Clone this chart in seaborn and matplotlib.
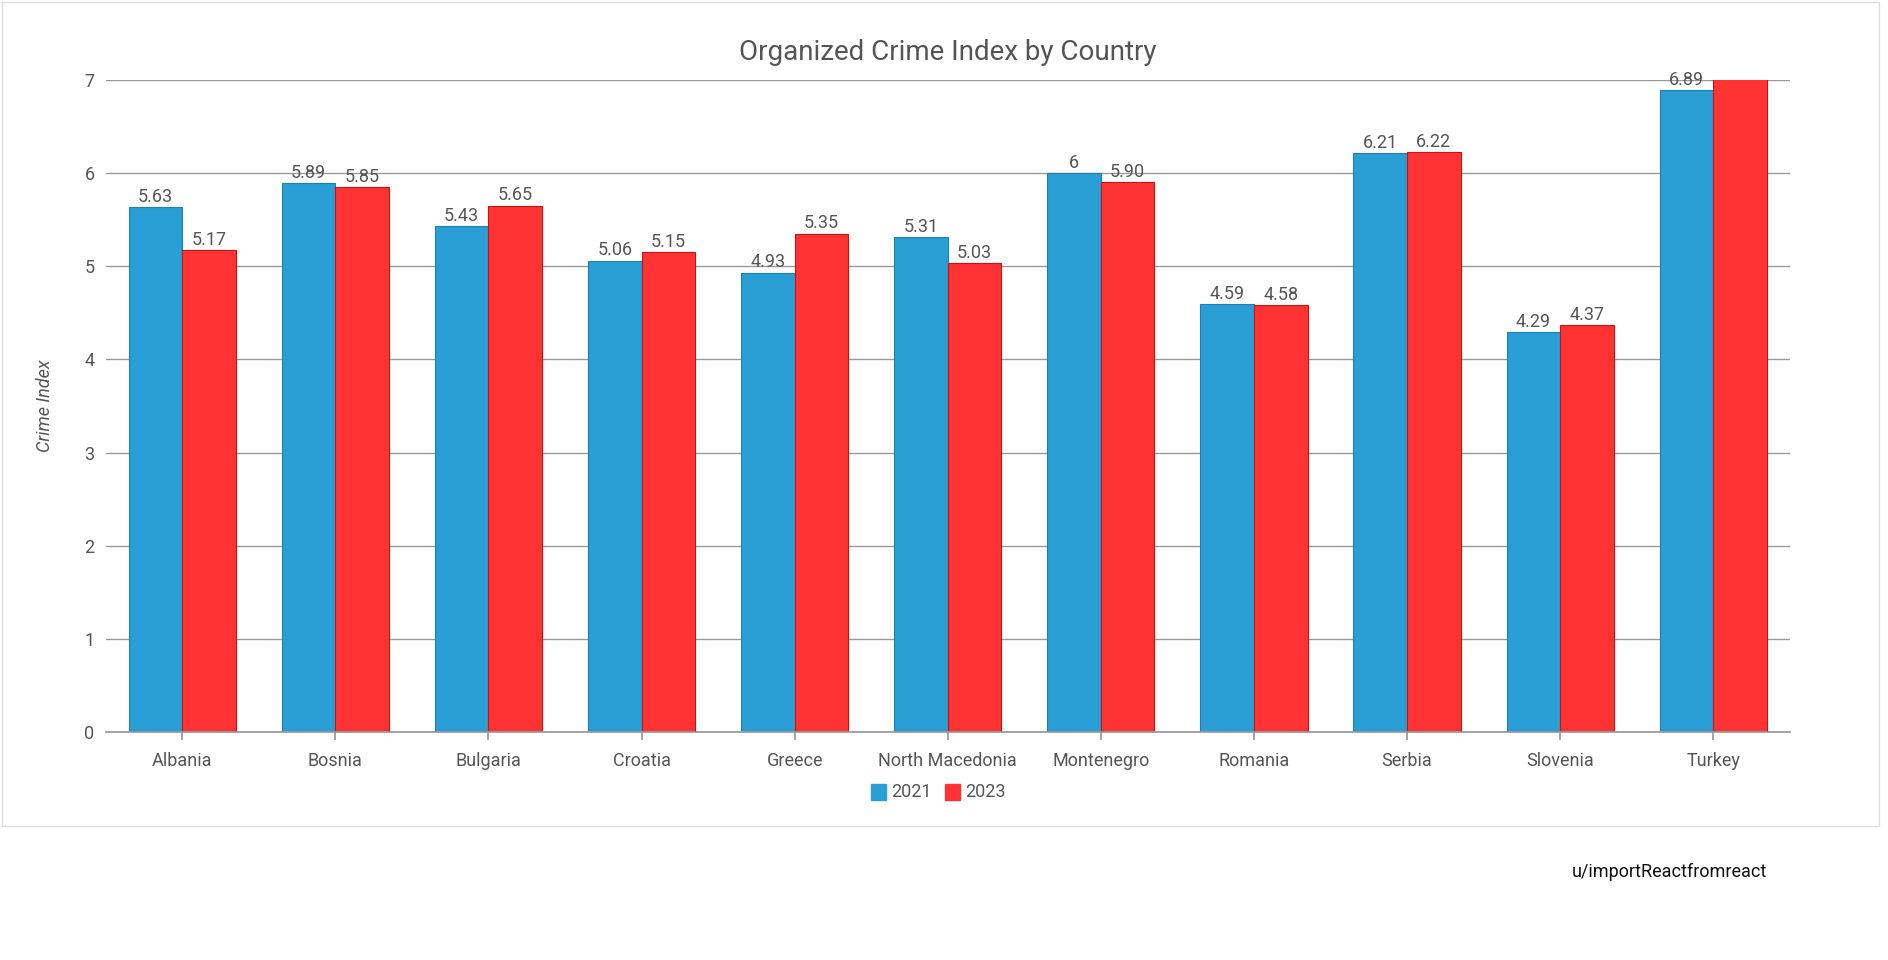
import pandas as pd
import matplotlib.pyplot as plt
import seaborn as sns
from matplotlib.patches import Rectangle

countries = ["Albania", "Bosnia", "Bulgaria", "Croatia", "Greece", "North Macedonia",
             "Montenegro", "Romania", "Serbia", "Slovenia", "Turkey"]
vals_2021 = [5.63, 5.89, 5.43, 5.06, 4.93, 5.31, 6.00, 4.59, 6.21, 4.29, 6.89]
vals_2023 = [5.17, 5.85, 5.65, 5.15, 5.35, 5.03, 5.90, 4.58, 6.22, 4.37, 7.03]
labels_2021 = ["5.63", "5.89", "5.43", "5.06", "4.93", "5.31", "6", "4.59", "6.21", "4.29", "6.89"]
labels_2023 = ["5.17", "5.85", "5.65", "5.15", "5.35", "5.03", "5.90", "4.58", "6.22", "4.37", "7.03"]

df = pd.DataFrame({
    "Country": countries * 2,
    "Value": vals_2021 + vals_2023,
    "Year": ["2021"] * len(countries) + ["2023"] * len(countries),
})

sns.set_theme(style="white")
plt.rcParams["font.family"] = ["Roboto", "DejaVu Sans"]
grey = "#555555"

fig = plt.figure(figsize=(18.88, 9.6), dpi=100)
fig.patches.append(Rectangle((0.001, 0.14), 0.994, 0.858, transform=fig.transFigure,
                             fill=False, edgecolor="#dddddd", linewidth=1))
ax = fig.add_axes([0.056, 0.237, 0.892, 0.68])

sns.barplot(data=df, x="Country", y="Value", hue="Year",
            palette={"2021": "#2A9FD6", "2023": "#FF3333"},
            width=0.7, gap=0, ax=ax, legend=False, saturation=1)
for i, p in enumerate(ax.patches):
    p.set_edgecolor("#1e7fb0" if i < len(countries) else "#cc1111")
    p.set_linewidth(0.8)

for cont, labs in zip(ax.containers, [labels_2021, labels_2023]):
    ax.bar_label(cont, labels=labs, padding=1, fontsize=13, color=grey)

ax.set_ylim(0, 7)
ax.set_yticks(range(8))
ax.yaxis.grid(True, color="#999999", linewidth=1)
ax.set_axisbelow(True)
for s in ["top", "right", "left"]:
    ax.spines[s].set_visible(False)
ax.spines["bottom"].set_color("#999999")
ax.tick_params(axis="both", colors=grey, labelsize=13, length=0, pad=8)
ax.tick_params(axis="x", length=6, color="#999999", direction="out", bottom=True)
ax.set_xlabel("")
ax.set_ylabel("Crime Index", fontsize=13, color=grey, style="italic", labelpad=22)
ax.set_xlim(-0.5, len(countries) - 0.5)

ax.set_title("Organized Crime Index by Country", fontsize=20, color=grey, pad=14)

# legend
fig.patches.append(Rectangle((0.4615, 0.167), 0.008, 0.016, transform=fig.transFigure,
                             color="#2A9FD6"))
fig.text(0.472, 0.175, "2021", fontsize=13, color=grey, va="center")
fig.patches.append(Rectangle((0.5005, 0.167), 0.008, 0.016, transform=fig.transFigure,
                             color="#FF3333"))
fig.text(0.511, 0.175, "2023", fontsize=13, color=grey, va="center")

fig.text(0.936, 0.086, "u/importReactfromreact", fontsize=13, color="#111111", ha="right")

fig.savefig("out.png", dpi=100, facecolor="white")
